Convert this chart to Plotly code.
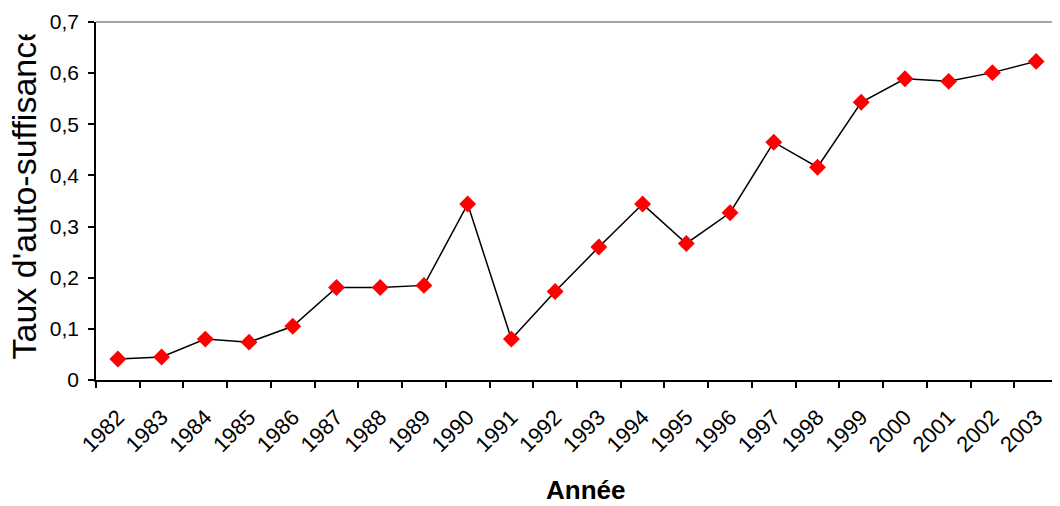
import plotly.graph_objects as go

years = [str(y) for y in range(1982, 2004)]
taux = [0.041, 0.045, 0.080, 0.074, 0.105, 0.181, 0.181, 0.185, 0.344, 0.080,
        0.173, 0.260, 0.344, 0.267, 0.327, 0.465, 0.416, 0.543, 0.589, 0.584,
        0.601, 0.623]
ytick_vals = [0, 0.1, 0.2, 0.3, 0.4, 0.5, 0.6, 0.7]
ytick_text = ["0", "0,1", "0,2", "0,3", "0,4", "0,5", "0,6", "0,7"]

fig = go.Figure()
fig.add_trace(go.Scatter(
    x=years, y=taux, mode="lines+markers",
    line=dict(color="black", width=1.5),
    marker=dict(symbol="diamond", color="#ff0000", size=13),
    showlegend=False,
))

# page body has an 8px margin, so the figure is sized/offset to compensate
fig.update_layout(
    width=1052, height=498,
    margin=dict(l=88, r=2, t=14, b=126),
    paper_bgcolor="white", plot_bgcolor="white",
    font=dict(family="Liberation Sans, Arial", color="black", size=21),
    xaxis=dict(
        type="category", tickson="boundaries", ticks="outside", ticklen=6,
        tickwidth=1.5, tickcolor="black", showline=True, linecolor="black",
        linewidth=1.5, showgrid=False, tickangle=-45, range=[-0.5, 21.5],
        tickfont=dict(size=22), automargin=False,
        ticklabelstandoff=14,
    ),
    yaxis=dict(
        range=[0, 0.7], tickvals=ytick_vals, ticktext=ytick_text,
        ticks="outside", ticklen=6, tickwidth=1.5, tickcolor="black",
        showline=True, linecolor="black", linewidth=1.5, showgrid=False,
        zeroline=False, tickfont=dict(size=21), automargin=False,
        ticklabelstandoff=5,
    ),
    shapes=[dict(type="line", xref="paper", yref="paper", x0=0, x1=1, y0=1, y1=1,
                 line=dict(color="#888888", width=1.5))],
    annotations=[
        dict(text="Taux d'auto-suffisance", xref="paper", yref="paper",
             x=0, xshift=-72, xanchor="center", y=0.5265, yanchor="middle",
             textangle=-90, showarrow=False, font=dict(size=34)),
        dict(text=" ", xref="paper", yref="paper", x=0, xshift=-96,
             xanchor="left", y=1, yshift=22, yanchor="top", width=45, height=33,
             bgcolor="white", borderpad=0, showarrow=False),
        dict(text="<b>Année</b>", xref="paper", yref="paper", x=0.509,
             xanchor="center", y=0, yshift=-110, yanchor="middle",
             showarrow=False, font=dict(size=26)),
    ],
)

fig.write_html("out.html")
